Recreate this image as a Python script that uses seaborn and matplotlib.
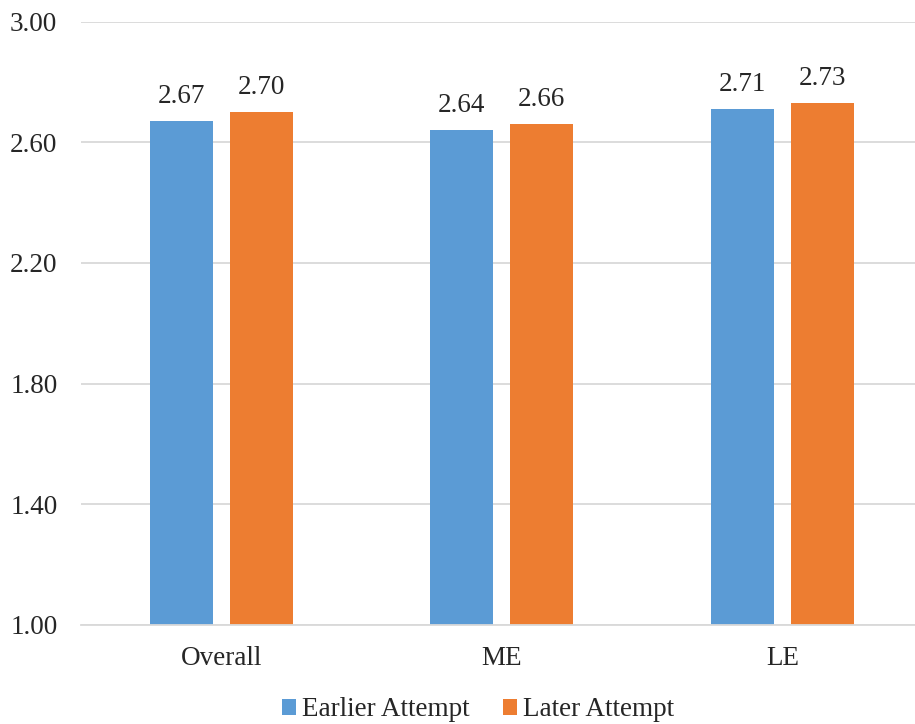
import matplotlib
matplotlib.use("Agg")
import matplotlib.pyplot as plt
import seaborn as sns
import pandas as pd
from matplotlib.patches import Patch

categories = ["Overall", "ME", "LE"]
series_names = ["Earlier Attempt", "Later Attempt"]
earlier = [2.67, 2.64, 2.71]
later = [2.70, 2.66, 2.73]
yticks = [1.00, 1.40, 1.80, 2.20, 2.60, 3.00]
colors = ["#5B9BD5", "#ED7D31"]

df = pd.DataFrame({
    "category": categories * 2,
    "series": [series_names[0]] * 3 + [series_names[1]] * 3,
    "value": earlier + later,
})

sns.set_theme(style="white")
plt.rcParams["font.family"] = ["Liberation Serif", "DejaVu Serif"]

FS = 19.5
fig = plt.figure(figsize=(9.15, 7.24), dpi=100)
ax = fig.add_axes([0.0885, 0.137, 0.92, 0.833])

sns.barplot(data=df, x="category", y="value", hue="series", order=categories,
            hue_order=series_names, palette=colors, width=0.57, gap=0.214,
            ax=ax, legend=False, saturation=1, linewidth=0)

ax.set_ylim(1.0, 3.0)
ax.set_xlim(-0.5, 2.5)
ax.set_yticks(yticks)
ax.set_yticklabels([f"{v:.2f}" for v in yticks], fontsize=FS)
ax.tick_params(axis="x", labelsize=FS, length=0, pad=15.5)
ax.tick_params(axis="y", length=0, pad=17)
ax.set_xlabel("")
ax.set_ylabel("")
ax.yaxis.grid(True, color="#D9D9D9", linewidth=1.3)
ax.set_axisbelow(True)
for s in ["top", "right", "left"]:
    ax.spines[s].set_visible(False)
ax.spines["bottom"].set_color("#D9D9D9")
ax.spines["bottom"].set_linewidth(1.3)

for cont in ax.containers:
    ax.bar_label(cont, fmt="%.2f", fontsize=FS, padding=8.5)

handles = [Patch(facecolor=c, edgecolor="none") for c in colors]
fig.legend(handles, series_names, loc="center", bbox_to_anchor=(478 / 915, 1 - 710 / 724),
           ncol=2, frameon=False, fontsize=FS, handlelength=0.52, handleheight=0.52,
           handletextpad=0.22, columnspacing=1.2, borderpad=0)

fig.savefig("out.png", dpi=100)
